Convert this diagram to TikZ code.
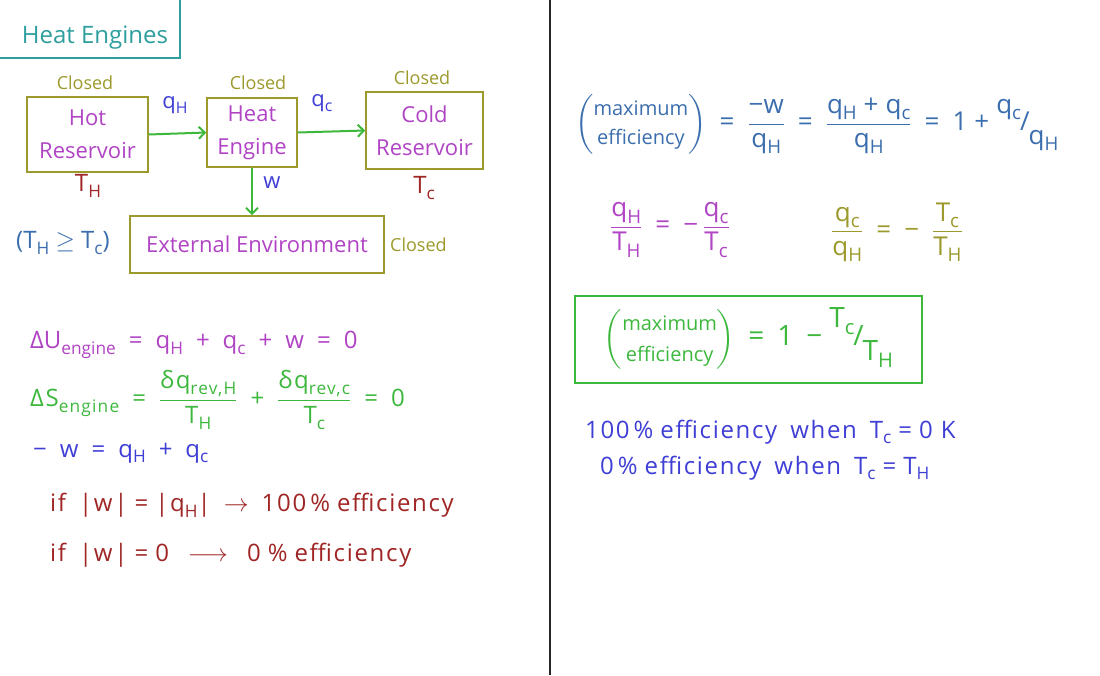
\documentclass[tikz,border=0pt]{standalone}
\usepackage{fontspec}
\usepackage{amsmath}
\setmainfont{Open Sans}
\usetikzlibrary{arrows.meta}
\definecolor{cTeal}{HTML}{2E9E9E}
\definecolor{cOlive}{HTML}{9C9A2C}
\definecolor{cMag}{HTML}{B044C4}
\definecolor{cGreen}{HTML}{3DB83D}
\definecolor{cBlue}{HTML}{3F3FD6}
\definecolor{cRed}{HTML}{A02626}
\definecolor{cSteel}{HTML}{3B6EAE}
\newcommand\tx[1]{\text{#1}}
\newcommand\gp{\hspace{13pt}}
\newcommand\hg{\hspace{7pt}}
\newcommand\sbs[1]{\raisebox{-0.45ex}{\scalebox{0.72}{#1}}}
\newcommand\maxeff{\left(\begin{tabular}{@{}c@{}}\fontsize{20}{22}\selectfont maximum\\[-1pt]\fontsize{20}{22}\selectfont efficiency\end{tabular}\right)}
\begin{document}
\begin{tikzpicture}[x=1pt,y=-1pt,
  every node/.style={inner sep=0pt, font=\fontsize{24}{28}\selectfont},
  sysbox/.style={draw=cOlive, line width=1.6pt, align=center, text=cMag, font=\fontsize{22}{33}\selectfont},
  closedlbl/.style={text=cOlive, font=\fontsize{18}{21}\selectfont},
  flow/.style={draw=cGreen, line width=2pt, -{Straight Barb[length=6pt,width=12pt,line width=2pt]}},
  flowlbl/.style={text=cBlue, font=\fontsize{22}{26}\selectfont},
  temp/.style={text=cRed, font=\fontsize{24}{28}\selectfont},
  eq/.style={anchor=west},
  wide/.style={font=\fontsize{24}{28}\selectfont\addfontfeature{LetterSpace=7}}]
\useasboundingbox (0,0) rectangle (1100,675);
\fill[white] (0,0) rectangle (1100,675);
% title
\node[text=cTeal] (title) at (95,38) {Heat Engines};
\draw[cTeal, line width=1.5pt] (0,58) -- (180,58) -- (180,0);
% divider
\draw[black!85, line width=1.6pt] (550,0) -- (550,675);
% system boxes
\node[sysbox, minimum width=121pt, minimum height=75pt] (hot) at (87.5,134.5) {Hot\\Reservoir};
\node[sysbox, minimum width=90pt, minimum height=69pt] (engine) at (252,132.5) {Heat\\Engine};
\node[sysbox, minimum width=117pt, minimum height=77pt] (cold) at (424.5,130.5) {Cold\\Reservoir};
\node[sysbox, minimum width=254pt, minimum height=57pt] (ext) at (257,244.5) {External Environment};
\node[closedlbl] (c1) at (85,83) {Closed};
\node[closedlbl] (c2) at (258,83) {Closed};
\node[closedlbl] (c3) at (422,78) {Closed};
\node[closedlbl, anchor=west] (c4) at (390,245) {Closed};
\node[temp] (th) at (88,186) {T\sbs{H}};
\node[temp] (tc) at (424,188) {T\sbs{c}};
\node[text=cSteel] (ineq) at (63,243) {(T\sbs{H} $\geq$ T\sbs{c})};
% flows
\draw[flow] (hot.east) -- (engine.west);
\draw[flow] (engine.east) -- (cold.west);
\draw[flow] (engine.south) -- (engine.south |- ext.north);
\node[flowlbl] (qh) at (175,105) {q\sbs{H}};
\node[flowlbl] (qc) at (322,103) {q\sbs{c}};
\node[flowlbl] (w) at (272,183) {w};
% left equations
\node[eq, text=cMag] (eU) at (30,345) {ΔU\sbs{engine}\gp=\gp q\sbs{H}\gp+\gp q\sbs{c}\gp+\gp w\gp=\gp 0};
\node[eq, text=cGreen, wide] (eS) at (30,400) {ΔS\sbs{engine}\gp=\gp$\dfrac{\tx{δq\sbs{rev,H}}}{\tx{T\sbs{H}}}$\gp+\gp$\dfrac{\tx{δq\sbs{rev,c}}}{\tx{T\sbs{c}}}$\gp=\gp0};
\node[eq, text=cBlue] (eW) at (33,453) {−\gp w\gp=\gp q\sbs{H}\gp+\gp q\sbs{c}};
\node[eq, text=cRed, wide] (if1) at (50,505) {if\gp |w|\hg=\hg|q\sbs{H}|\gp$\rightarrow$\gp100\,\%\hg efficiency};
\node[eq, text=cRed, wide] (if2) at (50,555) {if\gp |w|\hg=\hg0\gp\hspace{6pt}$\longrightarrow$\hspace{6pt}\gp0\hg\%\hg efficiency};
% right equations
\node[eq, text=cSteel, font=\fontsize{26}{30}\selectfont] (eMax) at (575,124) {$\maxeff$\gp=\gp$\dfrac{\tx{−w}}{\tx{q\sbs{H}}}$\gp=\gp$\dfrac{\tx{q\sbs{H}\hg+\hg q\sbs{c}}}{\tx{q\sbs{H}}}$\gp=\gp1\hg+\hg\raisebox{1.2ex}{q\sbs{c}}\kern-1pt/\kern-1pt\raisebox{-1ex}{q\sbs{H}}};
\node[text=cMag, font=\fontsize{26}{30}\selectfont] (r1) at (670,230) {$\dfrac{\tx{q\sbs{H}}}{\tx{T\sbs{H}}}$\gp=\gp−\,$\dfrac{\tx{q\sbs{c}}}{\tx{T\sbs{c}}}$};
\node[text=cOlive, font=\fontsize{26}{30}\selectfont] (r2) at (897,232) {$\dfrac{\tx{q\sbs{c}}}{\tx{q\sbs{H}}}$\gp=\gp−\gp$\dfrac{\tx{T\sbs{c}}}{\tx{T\sbs{H}}}$};
\node[draw=cGreen, line width=1.6pt, minimum width=347pt, minimum height=87pt, text=cGreen, font=\fontsize{28}{32}\selectfont] (best) at (748.5,339.5) {$\maxeff$\gp=\gp1\gp−\hg\raisebox{1.2ex}{T\sbs{c}}\kern-1pt/\kern-1pt\raisebox{-1ex}{T\sbs{H}}};
\node[eq, text=cBlue, wide] (b1) at (585,432) {100\,\%\hg efficiency\gp when\gp T\sbs{c}\hg=\hg0 K};
\node[eq, text=cBlue, wide] (b2) at (600,468) {0\,\%\hg efficiency\gp when\gp T\sbs{c}\hg=\hg T\sbs{H}};
\end{tikzpicture}
\end{document}
